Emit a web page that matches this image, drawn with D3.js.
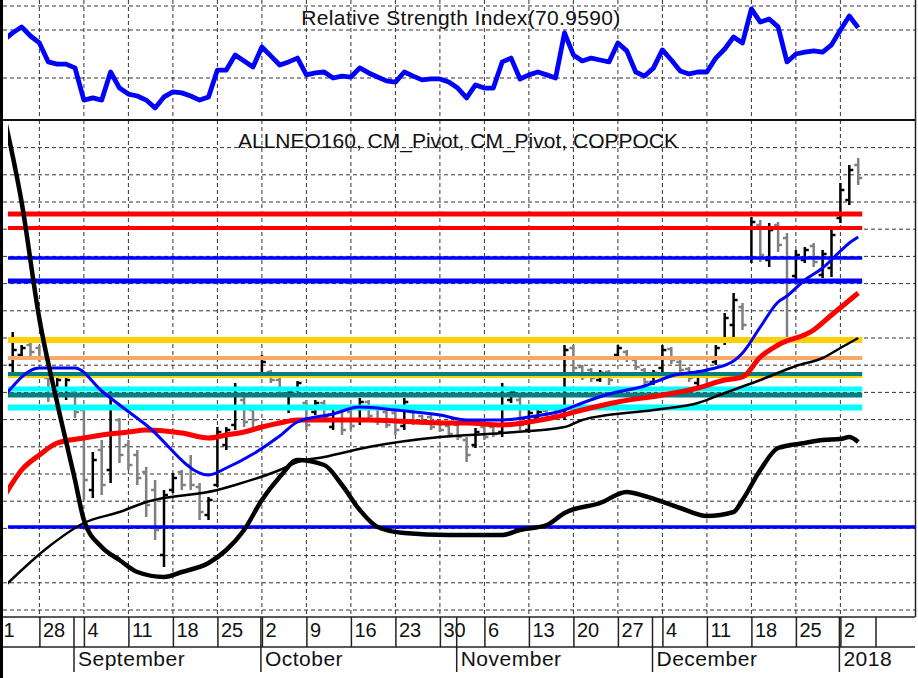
<!DOCTYPE html>
<html>
<head>
<meta charset="utf-8">
<script src="https://cdn.jsdelivr.net/npm/d3@7"></script>
<style>
  html, body { margin: 0; padding: 0; background: #fff; overflow: hidden; }
</style>
</head>
<body>
<div id="chart"></div>
<script>
// day index: 0 = Mon 21 Aug 2017, one slot per weekday
const weekTicks = d3.range(0, 100, 5);
// first label is the visible tail of "21", cut by the left frame in the original
const weekLabels = ['1', '28', '4', '11', '18', '25', '2', '9', '16', '23', '30',
  '6', '13', '20', '27', '4', '11', '18', '25', '2'];
const monthStarts = [9, 30, 52, 74, 95];
const monthLabels = ['September', 'October', 'November', 'December', '2018'];
const axisEnd = 99;

// RSI(14), one value per day starting at day 1
const rsiFirst = 1;
const rsi = [
  65.8, 68.8, 71.3, 67.5, 64.6, 56.7, 55.8, 55.8, 54.2, 40.8,
  41.7, 40.8, 52.5, 45.8, 43.3, 42.5, 40.8, 37.5, 42.1, 44.2,
  43.8, 42.5, 40.8, 42.1, 53.3, 53.3, 59.6, 57.1, 54.6, 62.9,
  59.2, 55.4, 56.7, 58.3, 51.3, 52.1, 52.5, 50.0, 50.8, 50.4,
  54.2, 52.1, 50.4, 48.8, 48.3, 52.5, 50.8, 49.2, 49.6, 49.6,
  48.3, 45.8, 41.7, 47.1, 45.8, 45.8, 56.7, 58.3, 49.6, 51.3,
  52.5, 51.3, 50.0, 68.8, 59.6, 57.1, 58.3, 57.5, 56.7, 64.6,
  61.3, 52.5, 50.8, 54.2, 61.7, 57.5, 52.9, 51.7, 52.5, 52.5,
  58.3, 62.1, 67.1, 64.6, 78.8, 73.3, 74.6, 71.3, 56.7, 60.0,
  60.8, 61.3, 60.8, 63.8, 70.0, 75.8, 70.959
];
const rsiGrid = [50, 70, 80];

// price bars [open, high, low, close], one per day starting at day 2
const barFirst = 2;
const ohlc = [
  [24.5, 27.8, 23.2, 26.0], [25.5, 26.5, 25.3, 26.2], [26.5, 26.7, 25.4, 25.8], [26.2, 26.5, 24.8, 25.2],
  [23.2, 23.5, 20.8, 21.5], [22.2, 23.2, 21.8, 23.0], [21.5, 23.4, 21.0, 23.0], [21.8, 22.2, 19.2, 19.8],
  [20.0, 20.5, 11.0, 13.0], [12.0, 15.8, 11.2, 15.0], [16.0, 17.0, 11.5, 12.5], [14.0, 22.3, 12.7, 21.5],
  [19.0, 19.2, 14.7, 15.5], [16.5, 17.0, 14.0, 14.5], [15.5, 16.0, 12.5, 13.2], [13.8, 14.3, 9.3, 10.5],
  [12.0, 13.0, 7.0, 8.0], [5.5, 12.0, 4.3, 11.5], [12.0, 13.7, 11.7, 13.2], [13.8, 14.0, 12.0, 12.5],
  [14.5, 15.5, 12.0, 12.5], [12.3, 12.7, 9.0, 9.8], [9.5, 11.3, 9.0, 11.0], [12.5, 18.3, 12.3, 17.8],
  [16.5, 18.3, 16.0, 18.0], [18.5, 22.7, 18.0, 22.2], [21.0, 21.3, 18.3, 18.8], [20.0, 20.3, 18.3, 19.0],
  [23.5, 25.5, 23.2, 24.8], [23.8, 24.0, 22.7, 23.0], [23.0, 23.3, 21.3, 21.7], [20.2, 22.3, 19.7, 21.8],
  [22.0, 22.9, 21.8, 22.7], [20.7, 21.0, 18.0, 18.5], [19.8, 21.0, 19.5, 20.7], [20.7, 21.0, 19.0, 19.3],
  [18.3, 20.5, 18.0, 20.2], [20.2, 20.5, 17.5, 18.0], [19.8, 20.0, 18.0, 18.4], [19.0, 21.2, 18.5, 20.8],
  [20.8, 21.0, 19.0, 19.4], [20.3, 20.5, 18.5, 19.0], [19.8, 20.0, 18.2, 18.5], [19.7, 20.0, 17.5, 18.0],
  [18.4, 21.2, 18.0, 20.8], [19.8, 20.0, 18.5, 18.8], [19.4, 19.5, 18.5, 18.7], [19.3, 19.5, 18.0, 18.3],
  [18.9, 19.0, 17.8, 18.0], [18.4, 18.5, 17.3, 17.6], [18.5, 18.7, 17.0, 17.3], [17.0, 17.3, 14.8, 15.5],
  [16.5, 18.2, 16.2, 17.8], [18.3, 18.5, 17.0, 17.3], [18.3, 18.5, 17.3, 17.6], [17.8, 22.7, 17.3, 22.2],
  [21.0, 22.2, 20.7, 21.8], [21.0, 21.3, 18.0, 18.5], [18.0, 20.0, 17.7, 19.7], [19.2, 20.0, 19.0, 19.8],
  [19.9, 20.0, 19.0, 19.2], [20.2, 20.5, 19.0, 19.3], [19.5, 26.5, 19.0, 26.0], [26.2, 26.5, 23.8, 24.2],
  [24.3, 24.5, 23.0, 23.3], [24.0, 24.2, 22.8, 23.2], [23.0, 24.0, 22.8, 23.7], [23.8, 24.0, 22.5, 23.0],
  [25.5, 26.5, 25.3, 26.2], [25.8, 26.0, 24.8, 25.2], [25.0, 25.2, 24.0, 24.3], [24.0, 24.2, 22.5, 22.8],
  [22.8, 24.0, 22.5, 23.7], [24.2, 26.5, 23.8, 26.0], [26.1, 26.3, 24.6, 25.0], [24.8, 25.0, 23.8, 24.0],
  [24.1, 24.3, 22.8, 23.2], [22.7, 24.0, 22.3, 23.6], [23.8, 24.0, 22.2, 22.6], [24.8, 26.5, 24.5, 26.2],
  [27.0, 29.7, 26.5, 29.2], [28.5, 31.7, 27.0, 31.0], [30.3, 30.7, 28.0, 28.5], [35.2, 39.3, 34.7, 38.8],
  [38.5, 39.0, 34.8, 35.5], [35.0, 38.7, 34.3, 38.0], [38.5, 38.8, 35.8, 36.5], [37.2, 37.7, 27.3, 33.0],
  [33.4, 36.0, 33.0, 35.5], [35.0, 36.3, 34.7, 36.0], [36.4, 36.7, 34.3, 34.8], [33.5, 36.0, 33.2, 35.6],
  [34.2, 38.0, 33.3, 37.5], [39.2, 42.7, 38.7, 42.0], [41.0, 44.5, 40.5, 44.0], [44.5, 45.2, 42.5, 43.2]
];

// overlays as [day, value]
const maFast = [[1, 21.3], [5, 24.2], [9, 24.2], [12, 21.9], [17, 18.5], [24, 13.5], [26, 14.2], [29, 15.6],
  [32, 17.4], [34, 18.8], [38, 19.6], [41, 20.3], [45, 20.0], [50, 19.5], [53, 19.0], [57, 19.0], [60, 19.3],
  [64, 20.0], [66, 20.7], [69, 21.6], [73, 22.4], [76, 23.4], [80, 24.0], [83, 24.9], [84, 25.7], [86, 28.3],
  [88, 30.8], [89, 31.4], [91, 33.0], [93, 34.2], [95, 35.9], [96, 36.7], [97, 37.3]];
const maMid = [[1, 11.3], [3, 14.0], [5, 15.5], [7, 16.7], [10, 17.2], [12, 17.5], [15, 17.8], [17, 18.0],
  [21, 17.7], [24, 17.2], [26, 17.5], [28, 17.8], [30, 18.3], [32, 18.7], [34, 19.0], [38, 19.0], [42, 19.0],
  [45, 18.9], [50, 18.7], [53, 18.7], [57, 18.5], [60, 18.8], [63, 19.3], [66, 20.0], [70, 20.8], [75, 21.5],
  [79, 22.2], [82, 23.0], [84, 23.3], [86, 25.3], [88, 26.5], [92, 28.0], [94, 29.5], [97, 31.7]];
const maSlow = [[1, 2.3], [6, 6.3], [10, 8.7], [14, 9.8], [17, 10.8], [25, 12.0], [27, 12.5], [32, 14.0],
  [34, 14.8], [37, 15.3], [42, 16.3], [50, 17.3], [57, 17.7], [64, 18.3], [66, 19.0], [74, 20.0], [79, 20.7],
  [82, 21.7], [86, 23.0], [90, 24.4], [93, 25.2], [95, 26.2], [97, 27.2]];
const coppock = [[1, 49.5], [3, 40.8], [5, 29.1], [7, 20.7], [9, 13.0], [10, 9.0], [12, 6.3], [14, 5.0],
  [16, 3.8], [19, 3.3], [21, 3.8], [24, 4.7], [26, 6.0], [28, 8.0], [30, 11.0], [32, 13.3], [34, 15.0],
  [37, 14.5], [39, 12.5], [41, 10.0], [43, 8.3], [46, 7.7], [51, 7.5], [57, 7.5], [59, 8.0], [62, 8.5],
  [64, 9.7], [68, 10.7], [71, 11.8], [73, 11.4], [77, 10.2], [80, 9.4], [83, 9.8], [84, 11.0], [86, 14.0],
  [88, 16.2], [91, 16.7], [93, 17.0], [95, 17.1], [96, 17.3], [97, 16.8]];

// CM_Pivot levels
const pivotLevels = [39.6, 38.2, 35.2, 32.9, 27.0, 25.2, 23.3, 23.6, 22.1, 21.5, 20.25, 8.3];
const pivotColors = ['#ff0000', '#ff0000', '#0000ff', '#0000ff', '#ffd000', '#f8a868', '#ffd000',
  '#008080', '#00ffff', '#008080', '#00ffff', '#0000ff'];
const pivotWidths = [5, 4, 3.5, 5, 6, 4, 2, 4, 5, 5, 6, 3.5];

const W = 918, H = 678;
const FONT = '"Liberation Sans", Arial, sans-serif';
const EDGE = 3, L = 8, R = 915, RSI_BOT = 120, MAIN_BOT = 617, ROW2 = 647;

const svg = d3.select('#chart').append('svg')
  .attr('width', W).attr('height', H)
  .style('font-family', FONT);

const defs = svg.append('defs');
defs.append('clipPath').attr('id', 'clipRsi').append('rect')
  .attr('x', L).attr('y', 0).attr('width', R - L).attr('height', RSI_BOT);
defs.append('clipPath').attr('id', 'clipMain').append('rect')
  .attr('x', L).attr('y', RSI_BOT + 1).attr('width', R - L).attr('height', MAIN_BOT - RSI_BOT - 1);

const x = d3.scaleLinear().domain([0, 100]).range([-5.1, 884.9]);
const y = d3.scaleLinear().domain([0, 49]).range([610, 120]);
const yR = d3.scaleLinear().domain([32.5, 82.5]).range([RSI_BOT, 0]);

const dash = g => g.attr('stroke', '#333').attr('stroke-width', 1).attr('stroke-dasharray', '4,3');
const gridTicks = weekTicks.filter(d => x(d) > EDGE);

// ---- RSI panel
const gRg = svg.append('g');
gRg.selectAll('line.h').data(rsiGrid).join('line').attr('class', 'h')
  .attr('x1', EDGE).attr('x2', R).attr('y1', d => yR(d)).attr('y2', d => yR(d)).call(dash);
gRg.selectAll('line.v').data(gridTicks).join('line').attr('class', 'v')
  .attr('x1', d => x(d)).attr('x2', d => x(d)).attr('y1', 0).attr('y2', RSI_BOT).call(dash);
const gR = svg.append('g').attr('clip-path', 'url(#clipRsi)');
gR.append('path')
  .datum(rsi)
  .attr('fill', 'none').attr('stroke', '#0000ff').attr('stroke-width', 4.8)
  .attr('stroke-linejoin', 'round')
  .attr('d', d3.line().x((d, i) => x(i + rsiFirst)).y(d => yR(d)));
svg.append('text')
  .attr('x', 461).attr('y', 25).attr('text-anchor', 'middle')
  .style('font-size', '21px').style('letter-spacing', '0.35px').attr('fill', '#111')
  .text(`Relative Strength Index(${rsi[rsi.length - 1].toFixed(4)})`);

// ---- main panel
const gMg = svg.append('g');
gMg.selectAll('line.h').data(d3.range(0, 18).map(k => k * 2.72)).join('line').attr('class', 'h')
  .attr('x1', EDGE).attr('x2', R).attr('y1', d => y(d)).attr('y2', d => y(d)).call(dash);
gMg.selectAll('line.v').data(gridTicks).join('line').attr('class', 'v')
  .attr('x1', d => x(d)).attr('x2', d => x(d)).attr('y1', RSI_BOT).attr('y2', MAIN_BOT).call(dash);

const gM = svg.append('g').attr('clip-path', 'url(#clipMain)');

// bars
const barG = gM.selectAll('g.bar').data(ohlc).join('g').attr('class', 'bar')
  .attr('stroke', d => d[3] >= d[0] ? '#000' : '#808080').attr('stroke-width', 2.5);
barG.append('line')
  .attr('x1', (d, i) => x(i + barFirst)).attr('x2', (d, i) => x(i + barFirst))
  .attr('y1', d => y(d[1])).attr('y2', d => y(d[2]));
barG.append('line')
  .attr('x1', (d, i) => x(i + barFirst) - 4).attr('x2', (d, i) => x(i + barFirst))
  .attr('y1', d => y(d[0])).attr('y2', d => y(d[0]));
barG.append('line')
  .attr('x1', (d, i) => x(i + barFirst)).attr('x2', (d, i) => x(i + barFirst) + 4)
  .attr('y1', d => y(d[3])).attr('y2', d => y(d[3]));

// pivot levels
const lastDay = barFirst + ohlc.length - 1;
gM.selectAll('line.pivot').data(pivotLevels).join('line').attr('class', 'pivot')
  .attr('x1', x(1))
  .attr('x2', (d, i) => i === pivotLevels.length - 1 ? R : x(lastDay) + 4)
  .attr('y1', d => y(d)).attr('y2', d => y(d))
  .attr('stroke', (d, i) => pivotColors[i]).attr('stroke-width', (d, i) => pivotWidths[i]);

const ln = d3.line().x(d => x(d[0])).y(d => y(d[1])).curve(d3.curveMonotoneX);
const overlays = [
  { data: maSlow, color: '#000', w: 2.5 },
  { data: maMid, color: '#ff0000', w: 5 },
  { data: maFast, color: '#0000ff', w: 3 },
  { data: coppock, color: '#000', w: 4.5 }
];
for (const o of overlays) {
  gM.append('path').datum(o.data)
    .attr('fill', 'none').attr('stroke', o.color).attr('stroke-width', o.w)
    .attr('stroke-linejoin', 'round').attr('d', ln);
}

svg.append('text')
  .attr('x', 458).attr('y', 148).attr('text-anchor', 'middle')
  .style('font-size', '21px').attr('fill', '#111')
  .text('ALLNEO160, CM_Pivot, CM_Pivot, COPPOCK');

// ---- date axis
const ax = svg.append('g').attr('transform', `translate(0,${MAIN_BOT})`)
  .call(d3.axisBottom(x).tickValues(weekTicks).tickFormat((d, i) => weekLabels[i]).tickSize(ROW2 - MAIN_BOT).tickSizeOuter(0));
ax.select('.domain').remove();
ax.selectAll('.tick').filter(d => x(d) <= EDGE).select('line').remove();
ax.selectAll('.tick line').attr('stroke', '#222').attr('stroke-width', 1.5);
ax.selectAll('.tick text')
  .attr('text-anchor', 'start').attr('dy', 0).attr('y', 20)
  .attr('x', d => Math.max(x(d) + 3, EDGE) - x(d))
  .attr('fill', '#111').style('font-size', '20px').style('font-family', FONT);

svg.append('line').attr('x1', x(axisEnd)).attr('x2', x(axisEnd))
  .attr('y1', MAIN_BOT).attr('y2', ROW2).attr('stroke', '#222').attr('stroke-width', 1.5);
svg.selectAll('line.month').data(monthStarts).join('line').attr('class', 'month')
  .attr('x1', d => x(d) - 1).attr('x2', d => x(d) - 1)
  .attr('y1', MAIN_BOT).attr('y2', 672).attr('stroke', '#222').attr('stroke-width', 1.5);
svg.selectAll('text.month').data(monthStarts).join('text').attr('class', 'month')
  .attr('x', d => x(d) + 3).attr('y', 666)
  .attr('fill', '#111').style('font-size', '21px').style('letter-spacing', '0.5px')
  .text((d, i) => monthLabels[i]);

// frame
svg.append('line').attr('x1', EDGE).attr('x2', R).attr('y1', MAIN_BOT).attr('y2', MAIN_BOT)
  .attr('stroke', '#222').attr('stroke-width', 1.5);
svg.append('line').attr('x1', EDGE).attr('x2', R).attr('y1', ROW2).attr('y2', ROW2)
  .attr('stroke', '#222').attr('stroke-width', 1.5);
svg.append('line').attr('x1', EDGE).attr('x2', R).attr('y1', RSI_BOT).attr('y2', RSI_BOT)
  .attr('stroke', '#111').attr('stroke-width', 2);
svg.append('line').attr('x1', R + 0.5).attr('x2', R + 0.5).attr('y1', 0).attr('y2', MAIN_BOT)
  .attr('stroke', '#222').attr('stroke-width', 1.5);
svg.append('rect').attr('x', 0).attr('y', 0).attr('width', EDGE).attr('height', H).attr('fill', '#000');
</script>
</body>
</html>
